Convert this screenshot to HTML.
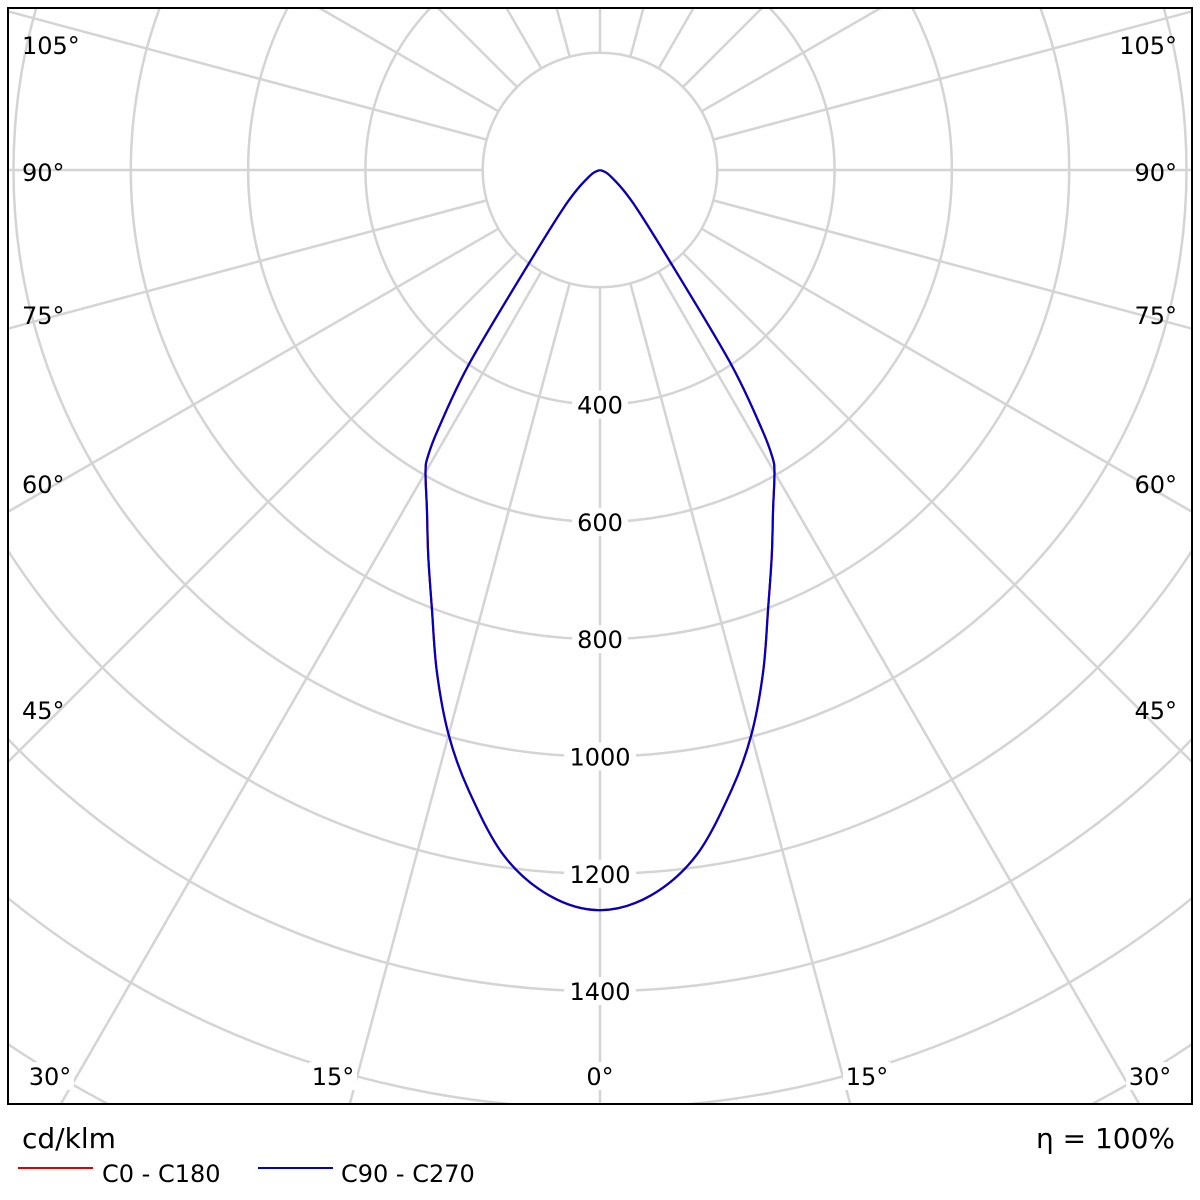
<!DOCTYPE html>
<html><head><meta charset="utf-8"><style>
html,body{margin:0;padding:0;background:#fff;width:1200px;height:1200px;overflow:hidden}
svg{display:block;font-family:"DejaVu Sans","Liberation Sans",sans-serif}
</style></head><body>
<svg id="chart" width="1200" height="1200" viewBox="0 0 1200 1200">
<defs><clipPath id="clip"><rect x="9" y="9" width="1182" height="1094"/></clipPath></defs>
<g id="grid" clip-path="url(#clip)"></g>
<g id="series" clip-path="url(#clip)"></g>
<g id="labels"></g>
<rect x="8" y="8" width="1184" height="1096" fill="none" stroke="#000" stroke-width="2"/>
<text x="22" y="1148" font-size="28" fill="#000">cd/klm</text>
<text x="1175" y="1148" font-size="28" fill="#000" text-anchor="end">η = 100%</text>
<line x1="18" y1="1168" x2="93" y2="1168" stroke="#e00000" stroke-width="2"/>
<text x="102" y="1182" font-size="24">C0 - C180</text>
<line x1="258" y1="1168" x2="333" y2="1168" stroke="#0000c8" stroke-width="2"/>
<text x="341" y="1182" font-size="24">C90 - C270</text>
</svg>
<script>
const gammaAngles = [0,4,8,12,15,18,21,24,27,30,31,32,34,37,45,60,90];
const c0Values   = [1262,1240,1180,1080,997,900,800,720,650,595,570,520,400,210,80,20,0];
const c90Values  = [1262,1240,1180,1080,997,900,800,720,650,595,570,520,400,210,80,20,0];
const ringValues = [200,400,600,800,1000,1200,1400,1600,1800,2000];
const ringLabels = ["400","600","800","1000","1200","1400"];
const spokeAngles = [0,15,30,45,60,75,90,105,120,135,150,165,180];

const NS="http://www.w3.org/2000/svg";
const cx=600, cy=170, k=0.5865;
const rScale=v=>v*k;
function pt(g,v){const a=g*Math.PI/180;return [cx+rScale(v)*Math.sin(a), cy+rScale(v)*Math.cos(a)];}
function mk(tag,attrs,parent){const e=document.createElementNS(NS,tag);for(const a in attrs)e.setAttribute(a,attrs[a]);parent.appendChild(e);return e;}
const grid=document.getElementById('grid'), ser=document.getElementById('series'), lab=document.getElementById('labels');
const inner=rScale(ringValues[0]);
ringValues.forEach(v=>{
  const c=mk('circle',{cx:cx,cy:cy,r:rScale(v),fill:'none',stroke:'#d4d4d4','stroke-width':2.5},grid);
  
  
});
spokeAngles.forEach(g=>{[1,-1].forEach(s=>{
  if((g===0||g===180)&&s<0)return;
  const a=s*g*Math.PI/180;
  const l=mk('line',{x1:cx+inner*Math.sin(a),y1:cy+inner*Math.cos(a),x2:cx+1400*Math.sin(a),y2:cy+1400*Math.cos(a),stroke:'#d4d4d4','stroke-width':2.5},grid);
  
  
});});
ringLabels.forEach(t=>{
  const y=cy+rScale(+t);
  const r=mk('rect',{x:cx-t.length*8-4,y:y-14,width:t.length*16+8,height:28,fill:'#fff'},lab);
  
  
  const tx=mk('text',{x:cx,y:y+9,'font-size':24,'text-anchor':'middle'},lab);tx.textContent=t;
  
  
});
function curve(vals,color,name){
  let pts=[];
  for(let i=gammaAngles.length-1;i>=0;i--)pts.push(pt(-gammaAngles[i],vals[i]));
  for(let i=1;i<gammaAngles.length;i++)pts.push(pt(gammaAngles[i],vals[i]));
  let d='M'+pts[0][0]+','+pts[0][1];
  for(let i=0;i<pts.length-1;i++){
    const p0=pts[Math.max(0,i-1)],p1=pts[i],p2=pts[i+1],p3=pts[Math.min(pts.length-1,i+2)];
    const c1=[p1[0]+(p2[0]-p0[0])/6,p1[1]+(p2[1]-p0[1])/6],c2=[p2[0]-(p3[0]-p1[0])/6,p2[1]-(p3[1]-p1[1])/6];
    d+=' C'+c1+' '+c2+' '+p2;
  }
  const p=mk('path',{d:d,fill:'none',stroke:color,'stroke-width':2.2,'stroke-linejoin':'round'},ser);
  
  
}
curve(c0Values,'#e00000','series-c0-c180');
curve(c90Values,'#0000c8','series-c90-c270');
const angLabels=[["105°",45],["90°",172],["75°",315],["60°",484],["45°",710]];
angLabels.forEach(([t,y])=>{
  [[22,'start','left'],[1177,'end','right']].forEach(([x,anc,side])=>{
    const tx=mk('text',{x:x,y:y+9,'font-size':24,'text-anchor':anc},lab);tx.textContent=t;
    
    
  });
});
[["30°",50],["15°",333],["0°",600],["15°",867],["30°",1150]].forEach(([t,x],i)=>{
  const bg=mk('rect',{x:x-24,y:1062,width:48,height:28,fill:'#fff'},lab);
  
  
  const tx=mk('text',{x:x,y:1085,'font-size':24,'text-anchor':'middle'},lab);tx.textContent=t;
  
  
});
</script>
</body></html>
